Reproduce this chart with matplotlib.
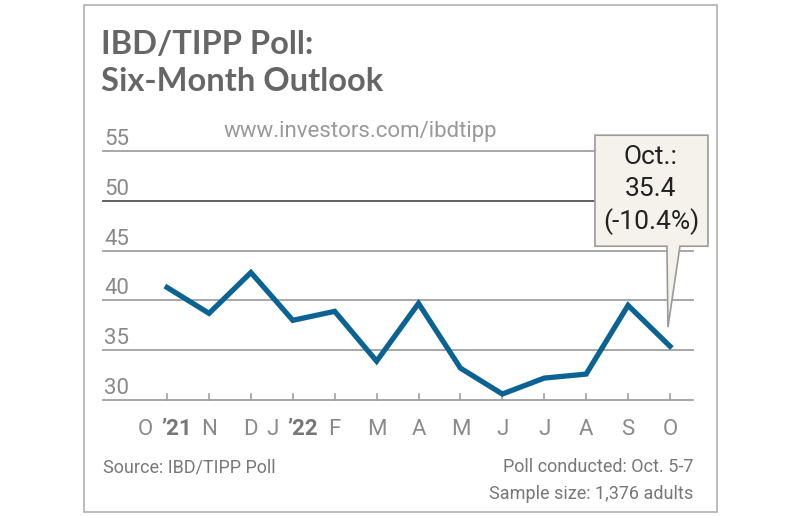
import numpy as np
import matplotlib.pyplot as plt
from matplotlib.patches import Polygon, Rectangle
from matplotlib.transforms import IdentityTransform, offset_copy

months = ['O', 'N', 'D', 'J', 'F', 'M', 'A', 'M', 'J', 'J', 'A', 'S', 'O']
years = {0: '\u201921', 3: '\u201922'}
outlook = [41.3, 38.7, 42.8, 38.0, 38.9, 33.9, 39.7, 33.2, 30.6, 32.2, 32.6, 39.5, 35.4]
yticks = [30, 35, 40, 45, 50, 55]
callout = ['Oct.:', '35.4', '(-10.4%)']

W, H = 798, 516
NARROW = ['Roboto', 'DejaVu Sans']
GRAY = '#8a8a8a'

fig = plt.figure(figsize=(W / 100, H / 100), dpi=100)
fig.patch.set_facecolor('white')


def fx(px):
    return px / W


def fy(py):
    return 1 - py / H


# frame around the whole graphic
fig.patches.append(Rectangle((fx(84), fy(512)), fx(717) - fx(84), fy(5) - fy(512),
                             transform=fig.transFigure, fill=False,
                             edgecolor='#b0b0b0', lw=1.2))

ax = fig.add_axes([fx(103), fy(400), fx(693) - fx(103), fy(151) - fy(400)])
x = np.arange(len(months))
ax.set_xlim(-1.53, 12.55)
ax.set_ylim(30, 55)
for s in ax.spines.values():
    s.set_visible(False)
ax.set_yticks([])
ax.set_xticks([])

for v in yticks:
    col = '#555555' if v == 50 else '#a0a0a0'
    ax.axhline(v, color=col, lw=1.3, zorder=1, clip_on=False)
    ax.text(0.0, v, str(v), transform=offset_copy(ax.get_yaxis_transform(), fig, x=1, y=6, units='dots'),
            ha='left', va='baseline', fontsize=16, color=GRAY, family=NARROW)

# small ticks standing on the baseline
for xi in x:
    ax.plot([xi, xi], [30, 30.6], color='#a0a0a0', lw=1.2, clip_on=False, zorder=1)

# month labels, year in bold
lab_tr = offset_copy(ax.get_xaxis_transform(), fig, x=0, y=-35, units='dots')
for xi, m in zip(x, months):
    if xi in years:
        ax.text(xi, 0, m, transform=offset_copy(lab_tr, fig, x=-14, y=0, units='dots'),
                ha='right', va='baseline', fontsize=16, color=GRAY, family=NARROW)
        ax.text(xi, 0, years[xi], transform=offset_copy(lab_tr, fig, x=-6, y=0, units='dots'),
                ha='left', va='baseline', fontsize=16, color='#777777', fontweight='bold', family=NARROW)
    else:
        ax.text(xi, 0, m, transform=lab_tr, ha='center', va='baseline', fontsize=16,
                color=GRAY, family=NARROW)

ax.plot(x, outlook, color='#0b6394', lw=3.8, solid_joinstyle='miter', zorder=3)

# callout box anchored on the last point
px, py = ax.transData.transform((x[-1], outlook[-1]))
pts = [(-75, 211), (38, 211), (38, 100), (10, 100), (-2, 19), (-3, 100), (-75, 100)]
poly = Polygon([(px + a, py + b) for a, b in pts], closed=True, transform=IdentityTransform(),
               facecolor='#f4f2ea', edgecolor='#9a9a9a', lw=1.2, zorder=5)
fig.patches.append(poly)
for line, dy in zip(callout, [182, 150, 117]):
    fig.text((px - 19) / W, (py + dy) / H, line, ha='center', va='baseline', fontsize=19,
             color='#222222', family=NARROW, zorder=6)

# titles and notes
TITLE = ['Lato', 'DejaVu Sans']
fig.text(fx(101), fy(54), 'IBD/TIPP Poll:', ha='left', va='baseline',
         fontsize=23.5, fontweight='bold', color='#666666', family=TITLE)
fig.text(fx(101), fy(91), 'Six-Month Outlook', ha='left', va='baseline',
         fontsize=23.5, fontweight='bold', color='#666666', family=TITLE)
fig.text(fx(360), fy(132), 'www.investors.com/ibdtipp', ha='center', va='center',
         fontsize=16, color='#999999', family=NARROW)
fig.text(fx(103), fy(467), 'Source: IBD/TIPP Poll', ha='left', va='center',
         fontsize=13, color='#777777', family=NARROW)
fig.text(fx(693), fy(467), 'Poll conducted: Oct. 5-7', ha='right', va='center',
         fontsize=13, color='#777777', family=NARROW)
fig.text(fx(693), fy(494), 'Sample size: 1,376 adults', ha='right', va='center',
         fontsize=13, color='#777777', family=NARROW)

fig.savefig('out.png', dpi=100)
